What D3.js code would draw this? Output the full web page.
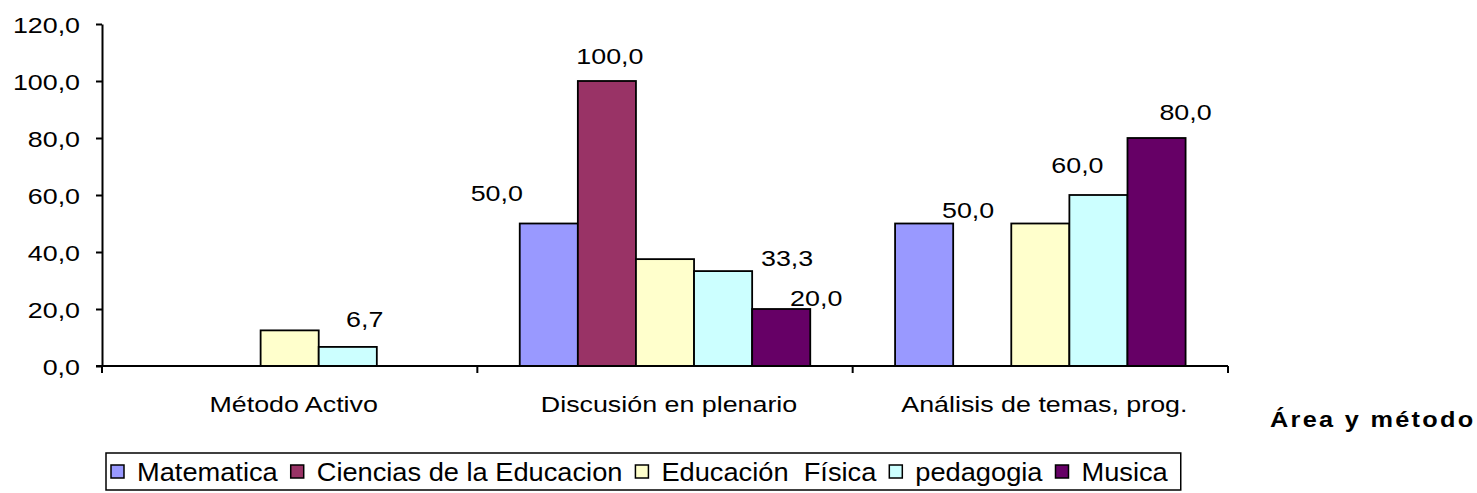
<!DOCTYPE html>
<html>
<head>
<meta charset="utf-8">
<script src="https://cdn.jsdelivr.net/npm/d3@7"></script>
<style>
  body { margin: 0; background: #fff; }
  text { font-family: "Liberation Sans", Arial, sans-serif; fill: #000; }
</style>
</head>
<body>
<svg id="chart" width="1477" height="493"></svg>
<script>
// categories and series
var categories = ["Método Activo", "Discusión en plenario", "Análisis de temas, prog."];
var seriesNames = ["Matematica", "Ciencias de la Educacion", "Educación  Física", "pedagogia", "Musica"];
var seriesColors = ["#9999FF", "#993366", "#FFFFCC", "#CCFFFF", "#660066"];

// values per series, in category order
var matematica = [0, 50.0, 50.0];
var ciencias   = [0, 100.0, 0];
var eduFisica  = [12.5, 37.5, 50.0];
var pedagogia  = [6.7, 33.3, 60.0];
var musica     = [0, 20.0, 80.0];

var yTicks = [0, 20, 40, 60, 80, 100, 120];
var xTitle = "Área y método";

// which bars carry a value label [category index, series index]
var labelled = [[0, 3], [1, 0], [1, 1], [1, 3], [1, 4], [2, 0], [2, 3], [2, 4]];
// hand-moved label nudges (px) from the bar top centre, same order as labelled
var labelNudge = [[17, -20], [-52, -23], [3, -17], [64, -5], [35, -3], [44, -6], [-21, -22], [29, -18]];

var values = [matematica, ciencias, eduFisica, pedagogia, musica];

var svg = d3.select("#chart");
var SX = 1.22; // source picture is stretched sideways

var plotLeft = 102, plotRight = 1228, plotTop = 24, plotBottom = 366;

var x0 = d3.scaleBand().domain(d3.range(categories.length)).range([plotLeft, plotRight]).padding(0);
var x1 = d3.scaleBand().domain(d3.range(seriesNames.length)).range([0, x0.bandwidth()]).paddingInner(0).paddingOuter(0.73);
var y = d3.scaleLinear().domain([0, 120]).range([plotBottom, plotTop]);

var fmt = function(v) { return d3.format(".1f")(v).replace(".", ","); };

function addText(g, x, yy, str, size, anchor, sx) {
  return g.append("text")
    .attr("transform", "translate(" + x + "," + yy + ") scale(" + sx + ",1)")
    .attr("text-anchor", anchor)
    .style("font-size", size + "px")
    .text(str);
}

// bars
var groups = svg.append("g").selectAll("g")
  .data(categories.map(function(c, i) { return i; }))
  .enter().append("g")
    .attr("transform", function(i) { return "translate(" + x0(i) + ",0)"; });

groups.selectAll("rect")
  .data(function(i) { return values.map(function(s, k) { return {k: k, v: s[i]}; }).filter(function(d) { return d.v > 0; }); })
  .enter().append("rect")
    .attr("x", function(d) { return x1(d.k); })
    .attr("y", function(d) { return y(d.v); })
    .attr("width", x1.bandwidth())
    .attr("height", function(d) { return y(0) - y(d.v); })
    .attr("fill", function(d) { return seriesColors[d.k]; })
    .attr("stroke", "#000")
    .attr("stroke-width", 1.8);

// y axis
var yAxis = d3.axisLeft(y).tickValues(yTicks).tickSize(6).tickSizeOuter(0).tickFormat(fmt);
var yg = svg.append("g").attr("transform", "translate(" + plotLeft + ",0)").call(yAxis);
yg.select(".domain").attr("stroke", "#000").attr("stroke-width", 2);
yg.selectAll(".tick line").attr("stroke", "#000").attr("stroke-width", 2);
yg.selectAll(".tick text")
  .attr("x", null).attr("dy", null)
  .attr("transform", "translate(-22,8) scale(" + SX + ",1)")
  .style("font-size", "22px");

// x axis line and category ticks
svg.append("line")
  .attr("x1", plotLeft - 6).attr("x2", plotRight)
  .attr("y1", y(0)).attr("y2", y(0))
  .attr("stroke", "#000").attr("stroke-width", 2);
var bounds = categories.map(function(c, i) { return x0(i); }).concat([plotRight]);
svg.append("g").selectAll("line").data(bounds).enter().append("line")
  .attr("x1", function(d) { return d; }).attr("x2", function(d) { return d; })
  .attr("y1", y(0)).attr("y2", y(0) + 7)
  .attr("stroke", "#000").attr("stroke-width", 2);

var cat = svg.append("g");
categories.forEach(function(c, i) {
  addText(cat, x0(i) + x0.bandwidth() / 2 + 4, 412, c, 22, "middle", SX);
});

// value labels
var lab = svg.append("g");
labelled.forEach(function(p, n) {
  var ci = p[0], si = p[1];
  var v = values[si][ci];
  var cx = x0(ci) + x1(si) + x1.bandwidth() / 2 + labelNudge[n][0];
  var cy = y(v) + labelNudge[n][1];
  addText(lab, cx, cy, fmt(v), 22, "middle", SX);
});

// axis title
addText(svg, 1270, 427, xTitle, 22, "start", 1.15)
  .style("font-weight", "bold")
  .style("letter-spacing", "2px");

// legend
var leg = svg.append("g");
var LSX = 1.09;
var lx = 111, ly = 472;
seriesNames.forEach(function(name, k) {
  leg.append("rect")
    .attr("x", lx).attr("y", ly - 7).attr("width", 13).attr("height", 13)
    .attr("fill", seriesColors[k]).attr("stroke", "#000").attr("stroke-width", 1.5);
  var t = addText(leg, lx + 26, ly + 9, name, 25, "start", LSX);
  t.style("white-space", "pre");
  var w = t.node().getComputedTextLength() * LSX;
  lx += 26 + w + 13;
});
leg.insert("rect", ":first-child")
  .attr("x", 106).attr("y", 453).attr("width", lx - 106).attr("height", 37)
  .attr("fill", "#fff").attr("stroke", "#000").attr("stroke-width", 1.5);
</script>
</body>
</html>
